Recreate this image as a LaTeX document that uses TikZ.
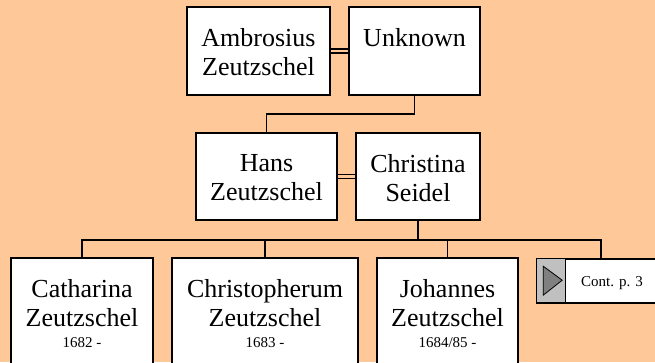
\documentclass[tikz,border=0pt]{standalone}
\usepackage{fontspec}
\setmainfont{Liberation Serif}
\usepackage{tikz}
\usetikzlibrary{positioning,calc}

\definecolor{peach}{RGB}{255,200,153}
\definecolor{btngray}{RGB}{192,192,192}
\definecolor{arrowgray}{RGB}{128,128,128}

\tikzset{
  person/.style={shape=rectangle,draw=black,fill=white,line width=1.6pt,inner sep=0pt},
  persontext/.style={font=\fontsize{26}{29.5}\selectfont,align=center,inner sep=0pt,anchor=north},
  yeartext/.style={font=\fontsize{15}{17}\selectfont,inner sep=0pt,anchor=base},
  marriage/.style={line width=1.4pt,double=peach,double distance=2.4pt},
  descent/.style={line width=1.6pt}
}

\begin{document}
\begin{tikzpicture}
\fill[peach] (0pt,0pt) rectangle (655pt,362pt);
\useasboundingbox (0pt,0pt) rectangle (655pt,362pt);

% parents of Hans
\node[person,minimum width=143pt,minimum height=88pt] (ambr) at (258.5pt,311pt) {};
\node[person,minimum width=131pt,minimum height=88pt] (unkn) at (414.5pt,311pt) {};
\node[persontext,below=22pt of ambr.north] (ambrtxt) {Ambrosius\\Zeutzschel};
\node[persontext,below=22pt of unkn.north] (unkntxt) {Unknown};

% Hans and Christina
\node[person,minimum width=141pt,minimum height=87pt] (hans) at (266.5pt,185.5pt) {};
\node[person,minimum width=124pt,minimum height=87pt] (chri) at (418pt,185.5pt) {};
\node[persontext,below=22pt of hans.north] (hanstxt) {Hans\\Zeutzschel};
\node[persontext,below=22pt of chri.north] (chritxt) {Christina\\Seidel};

% children
\node[person,minimum width=142pt,minimum height=120pt] (cath) at (82pt,44pt) {};
\node[person,minimum width=186pt,minimum height=120pt] (chrp) at (265pt,44pt) {};
\node[person,minimum width=141pt,minimum height=120pt] (joha) at (447.5pt,44pt) {};
\node[persontext,below=22pt of cath.north] (cathtxt) {Catharina\\Zeutzschel};
\node[persontext,below=22pt of chrp.north] (chrptxt) {Christopherum\\Zeutzschel};
\node[persontext,below=22pt of joha.north] (johatxt) {Johannes\\Zeutzschel};
\node[yeartext] (cathyr) at ([yshift=-90pt]cath.north) {1682 -};
\node[yeartext] (chrpyr) at ([yshift=-90pt]chrp.north) {1683 -};
\node[yeartext] (johayr) at ([yshift=-90pt]joha.north) {1684/85 -};

% continuation
\node[person,minimum width=128pt,minimum height=44pt] (cont) at (601pt,81pt) {};
\node[shape=rectangle,draw=black,fill=btngray,line width=1pt,minimum width=29pt,minimum height=44pt,anchor=north west] (btn) at (cont.north west) {};
\draw[fill=arrowgray,line width=0.8pt] ([shift={(7pt,-8pt)}]btn.north west) -- ([shift={(7pt,-37pt)}]btn.north west) -- ([shift={(26pt,-22pt)}]btn.north west) -- cycle;
\node[yeartext] (conttxt) at ([xshift=11pt,yshift=-5pt]cont.center) {Cont. p. 3};

\draw [marriage] (ambr) -- (unkn);
\draw [descent] (unkn.south) -- ++(0,-18pt) -| (hans.north);
\draw [marriage] (hans) -- (chri);
\draw [descent] (chri.south) -- ++(0,-19pt) coordinate (bar);
\draw [descent] (cath.north) |- (bar) -| (cont.north);
\draw [descent] (chrp.north) -- (chrp.north |- bar);
\draw [descent] (joha.north) -- (joha.north |- bar);
\end{tikzpicture}
\end{document}
